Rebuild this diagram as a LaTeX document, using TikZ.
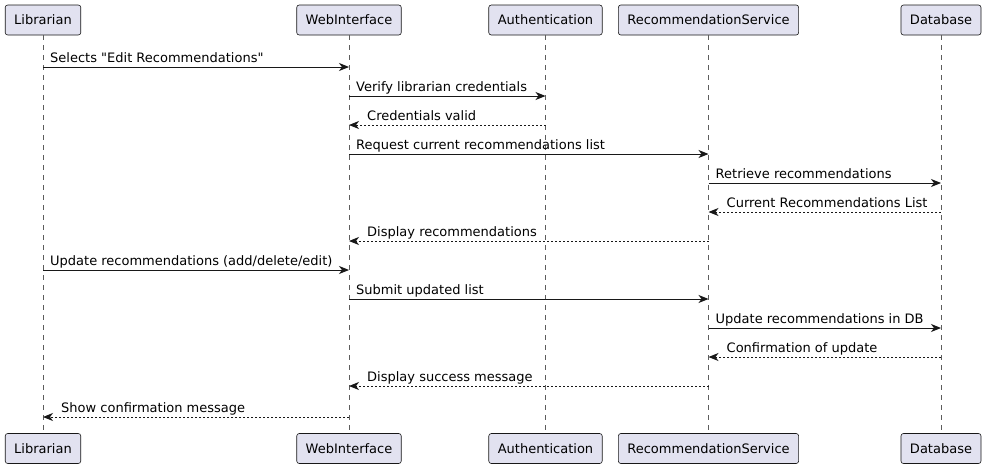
\documentclass[tikz,border=0pt]{standalone}
\usepackage{fontspec}
\newfontfamily\umlfont{DejaVu Sans}
\usetikzlibrary{arrows.meta}
\definecolor{boxfill}{HTML}{E2E2F0}
\definecolor{ink}{HTML}{181818}

\tikzset{
  actor/.style={draw=ink, line width=0.6pt, fill=boxfill, rounded corners=2.5pt,
    minimum height=30pt, inner xsep=9pt, font=\umlfont\fontsize{13}{15}\selectfont},
  lifeline/.style={ink!70, line width=0.5pt, dash pattern=on 5pt off 5pt},
  call/.style={ink, line width=1pt, -{Stealth[length=10pt,width=8pt,inset=3pt]}},
  reply/.style={ink, line width=1pt, dash pattern=on 2pt off 2pt, -{Stealth[length=10pt,width=8pt,inset=3pt]}},
  msg/.style={inner sep=0pt, anchor=base west, font=\umlfont\fontsize{13}{15}\selectfont}
}

\begin{document}
\begin{tikzpicture}[x=1pt, y=1pt]
  % Rahmen
  \path[use as bounding box, fill=white] (0,0) rectangle (986,-469);

  % Teilnehmer oben
  \node[actor] (libT)  at (43,-20)    {Librarian};
  \node[actor] (webT)  at (349,-20)   {WebInterface};
  \node[actor] (authT) at (545.5,-20) {Authentication};
  \node[actor] (recT)  at (708.5,-20) {RecommendationService};
  \node[actor] (dbT)   at (941,-20)   {Database};

  % Teilnehmer unten
  \node[actor] (libB)  at (43,-448.5)    {Librarian};
  \node[actor] (webB)  at (349,-448.5)   {WebInterface};
  \node[actor] (authB) at (545.5,-448.5) {Authentication};
  \node[actor] (recB)  at (708.5,-448.5) {RecommendationService};
  \node[actor] (dbB)   at (941,-448.5)   {Database};

  % Lebenslinien
  \foreach \p in {lib, web, auth, rec, db} {
    \draw[lifeline] (\p T.south) -- (\p B.north);
  }

  % Aufrufe
  \foreach \a/\b/\y/\txt in {libT/webT/67/{Selects "Edit Recommendations"},
      webT/authT/96/{Verify librarian credentials},
      webT/recT/154/{Request current recommendations list},
      recT/dbT/183/{Retrieve recommendations},
      libT/webT/270/{Update recommendations (add/delete/edit)},
      webT/recT/299/{Submit updated list},
      recT/dbT/328/{Update recommendations in DB}} {
    \coordinate (from) at (\a |- 0,-\y);
    \coordinate (to) at (\b |- 0,-\y);
    \draw[call] (from) -- (to);
    \node[msg] at ([shift={(7,5)}]from) {\txt};
  }

  % Antworten
  \foreach \a/\b/\y/\txt in {authT/webT/125/{Credentials valid},
      dbT/recT/212/{Current Recommendations List},
      recT/webT/241/{Display recommendations},
      dbT/recT/357/{Confirmation of update},
      recT/webT/386/{Display success message},
      webT/libT/417/{Show confirmation message}} {
    \coordinate (from) at (\a |- 0,-\y);
    \coordinate (to) at (\b |- 0,-\y);
    \draw[reply] (from) -- (to);
    \node[msg] at ([shift={(18,5)}]to) {\txt};
  }
\end{tikzpicture}
\end{document}
